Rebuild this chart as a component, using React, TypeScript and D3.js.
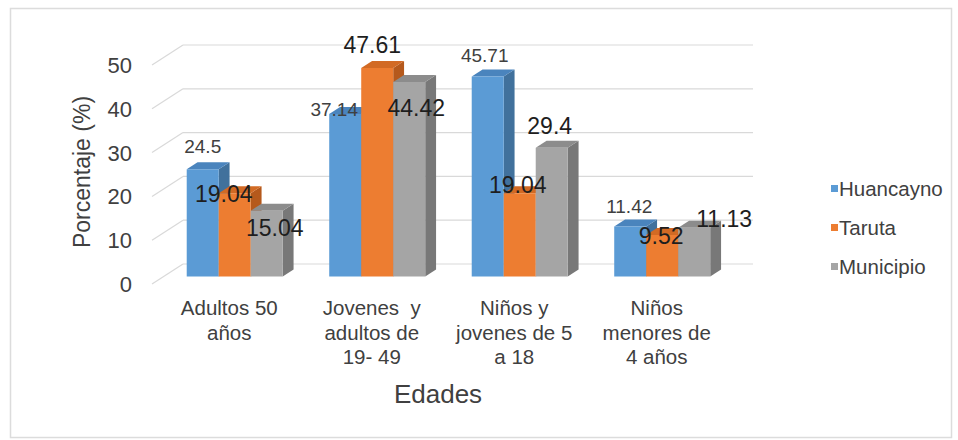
import React from "react";
import * as d3 from "d3";

const categories: string[][] = [
  ["Adultos 50", "años"],
  ["Jovenes  y", "adultos de", "19- 49"],
  ["Niños y", "jovenes de 5", "a 18"],
  ["Niños", "menores de", "4 años"],
];
const seriesNames = ["Huancayno", "Taruta", "Municipio"];
const huancayno = [24.5, 37.14, 45.71, 11.42];
const taruta = [19.04, 47.61, 19.04, 9.52];
const municipio = [15.04, 44.42, 29.4, 11.13];
const yTicks = [0, 10, 20, 30, 40, 50];
// manual data-label nudges (dx, dy) from bar top, per series per category
const labelNudges = [
  [[0, -16], [-11, 2], [-3, -14], [-1, -14]],
  [[-11, 9], [-5, -15], [-2, 0], [-1, 9]],
  [[8, 25], [7, 34], [-2, -14], [30, -1]],
];

const W = 958;
const H = 440;
const FONT = "'Liberation Sans', Arial, sans-serif";
const DEPTH = { dx: 31, dy: -20 };
const F1 = 0.37;
const F2 = 0.72;

const front = ["#5B9BD5", "#ED7D31", "#A5A5A5"];
const side = ["#41719C", "#B5591C", "#787878"];
const top = ["#4A84BD", "#D26A24", "#8C8C8C"];

export default function App() {
  const values = [huancayno, taruta, municipio];
  const x = d3.scaleBand<string>().domain(categories.map((c) => c.join(" "))).range([152, 722]);
  const y = d3.scaleLinear().domain([0, 50]).range([284, 65]);
  const clusterW = 96;
  const inner = d3.scaleBand<string>().domain(seriesNames).range([0, clusterW]);
  const bw = inner.bandwidth();
  const p = (px: number, py: number, f: number): [number, number] => [px + f * DEPTH.dx, py + f * DEPTH.dy];
  const poly = (pts: [number, number][]) => pts.map((q) => q.join(",")).join(" ");

  const bars: JSX.Element[] = [];
  const labels: JSX.Element[] = [];
  categories.forEach((c, ci) => {
    const key = c.join(" ");
    const left = (x(key) as number) + (x.bandwidth() - clusterW) / 2;
    seriesNames.forEach((s, si) => {
      const v = values[si][ci];
      const x0 = left + (inner(s) as number);
      const x1 = x0 + bw;
      const y0 = y(0);
      const yv = y(v);
      const A = p(x0, yv, F1), B = p(x1, yv, F1), C = p(x1, y0, F1), Dd = p(x0, y0, F1);
      const B2 = p(x1, yv, F2), A2 = p(x0, yv, F2), C2 = p(x1, y0, F2);
      bars.push(
        <g key={`b${ci}-${si}`}>
          <polygon points={poly([B, B2, C2, C])} fill={side[si]} />
          <polygon points={poly([A, A2, B2, B])} fill={top[si]} />
          <polygon points={poly([A, B, C, Dd])} fill={front[si]} />
        </g>
      );
      const [nx, ny] = labelNudges[si][ci];
      const cx = (A[0] + B[0]) / 2 + nx;
      labels.push(
        <text
          key={`l${ci}-${si}`}
          x={cx}
          y={A[1] + ny}
          textAnchor="middle"
          fontSize={si === 0 ? 19 : 23}
          fill={si === 0 ? "#404040" : "#1e1e1e"}
        >
          {v}
        </text>
      );
    });
  });

  const [xl, xr] = x.range();
  return (
    <svg
      width={W}
      height={H}
      style={{ position: "absolute", left: 0, top: 0, background: "#fff" }}
      fontFamily={FONT}
    >
      <rect x={0} y={0} width={W} height={H} fill="#fff" />
      <rect x={10.5} y={8.5} width={941} height={429} fill="#fff" stroke="#dcdcdc" strokeWidth={1.5} />
      {/* walls gridlines */}
      {yTicks.map((t) => {
        const [fx, fy] = p(xl, y(t), 0);
        const [bx, by] = p(xl, y(t), 1);
        const [ex] = p(xr, y(t), 1);
        return (
          <g key={`g${t}`} stroke="#d9d9d9" strokeWidth={1.2} fill="none">
            <line x1={fx} y1={fy} x2={bx} y2={by} />
            <line x1={bx} y1={by} x2={ex} y2={by} />
          </g>
        );
      })}
      {/* y tick labels */}
      {yTicks.map((t) => (
        <text key={`t${t}`} x={132} y={y(t)} dy="0.36em" textAnchor="end" fontSize={22} fill="#404040">
          {t}
        </text>
      ))}
      <text
        transform={`translate(90,${172}) rotate(-90)`}
        textAnchor="middle"
        fontSize={23}
        fill="#404040"
      >
        Porcentaje (%)
      </text>
      {bars}
      {labels}
      {/* category labels */}
      {categories.map((c, ci) => {
        const key = c.join(" ");
        const cx = (x(key) as number) + x.bandwidth() / 2 + 6;
        return (
          <text key={`c${ci}`} textAnchor="middle" fontSize={20.5} fill="#404040">
            {c.map((line, li) => (
              <tspan key={li} x={cx} y={315 + li * 24.5} style={{ whiteSpace: "pre" }}>
                {line}
              </tspan>
            ))}
          </text>
        );
      })}
      <text x={438} y={403} textAnchor="middle" fontSize={26} fill="#404040">
        Edades
      </text>
      {/* legend */}
      {seriesNames.map((s, si) => (
        <g key={`lg${si}`} transform={`translate(831,${189 + si * 39})`}>
          <rect x={0} y={-4} width={7} height={7} fill={front[si]} />
          <text x={8} y={0} dy="0.36em" fontSize={20.5} fill="#404040">
            {s}
          </text>
        </g>
      ))}
    </svg>
  );
}
